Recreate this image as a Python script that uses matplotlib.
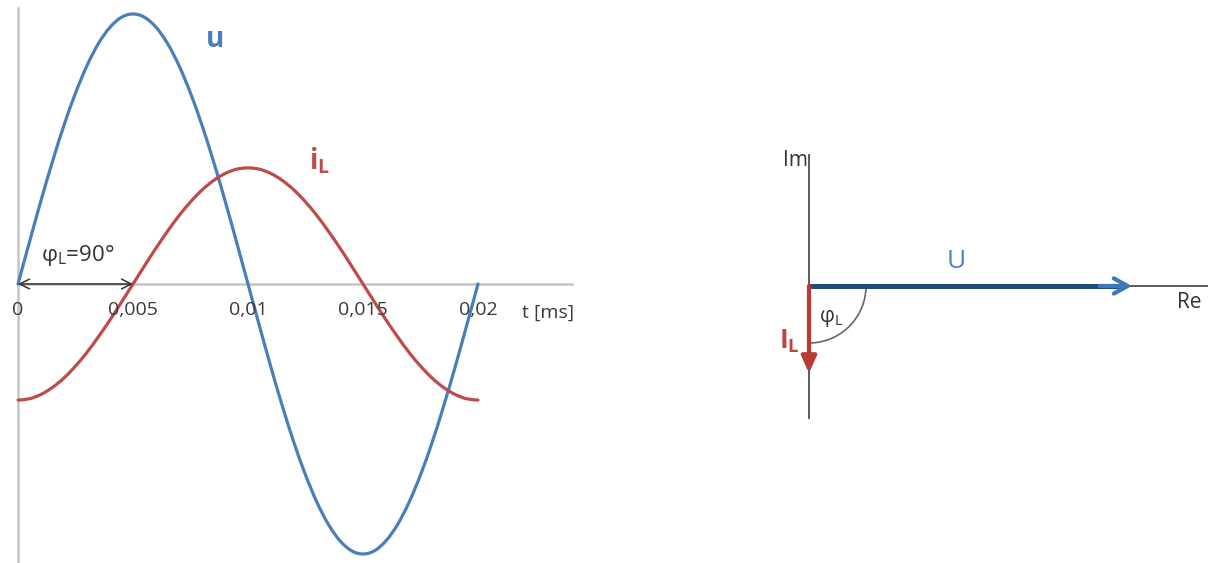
import numpy as np
import matplotlib.pyplot as plt
from matplotlib.path import Path
from matplotlib.patches import PathPatch

plt.rcParams['font.family'] = ['Open Sans', 'DejaVu Sans']
plt.rcParams['mathtext.fontset'] = 'custom'
plt.rcParams['mathtext.rm'] = 'Open Sans'
plt.rcParams['mathtext.bf'] = 'Open Sans:bold'

# =============================
# DATA
# =============================

# time samples, every 0.0005 s over one period
t = np.arange(41) * 0.0005

u = [0.000, 0.156, 0.309, 0.454, 0.588, 0.707, 0.809, 0.891, 0.951, 0.988,
     1.000, 0.988, 0.951, 0.891, 0.809, 0.707, 0.588, 0.454, 0.309, 0.156,
     0.000, -0.156, -0.309, -0.454, -0.588, -0.707, -0.809, -0.891, -0.951, -0.988,
     -1.000, -0.988, -0.951, -0.891, -0.809, -0.707, -0.588, -0.454, -0.309, -0.156,
     0.000]

i_L = [-0.430, -0.425, -0.409, -0.383, -0.348, -0.304, -0.253, -0.195, -0.133, -0.067,
       0.000, 0.067, 0.133, 0.195, 0.253, 0.304, 0.348, 0.383, 0.409, 0.425,
       0.430, 0.425, 0.409, 0.383, 0.348, 0.304, 0.253, 0.195, 0.133, 0.067,
       0.000, -0.067, -0.133, -0.195, -0.253, -0.304, -0.348, -0.383, -0.409, -0.425,
       -0.430]

tick_pos = [0, 0.005, 0.01, 0.015, 0.02]
tick_labels = ['0', '0,005', '0,01', '0,015', '0,02']
phase_shift = 0.005   # 90 degrees

# phasors (real, imag)
U_phasor = (1.0, 0.0)
I_phasor = (0.0, -0.27)

blue = '#4a7ebb'
red = '#be4b48'
grey = '#c4c4c4'
txt = '#3a3a3a'


def smooth_line(ax, x, y, **kw):
    # smoothed line through the points (Catmull-Rom as bezier), like Excel
    p = np.column_stack([x, y])
    p = np.vstack([p[0], p, p[-1]])
    verts = [p[1]]
    codes = [Path.MOVETO]
    for k in range(1, len(p) - 2):
        c1 = p[k] + (p[k + 1] - p[k - 1]) / 6
        c2 = p[k + 1] - (p[k + 2] - p[k]) / 6
        verts += [c1, c2, p[k + 1]]
        codes += [Path.CURVE4] * 3
    ax.add_patch(PathPatch(Path(verts, codes), fill=False, **kw))


W, H = 1215, 563
fig = plt.figure(figsize=(W / 100, H / 100), dpi=100)

# =============================
# TIME DIAGRAM
# =============================
ax = fig.add_axes([0, 0, 600 / W, 1])
ax.set_xlim(-18 / 23000, 582 / 23000)
ax.set_ylim(-279 / 270, 284 / 270)

smooth_line(ax, t, u, edgecolor=blue, lw=2.3, capstyle='round')
smooth_line(ax, t, i_L, edgecolor=red, lw=2.3, capstyle='round')

for s in ['top', 'right']:
    ax.spines[s].set_visible(False)
ax.spines['bottom'].set_position(('data', 0))
ax.spines['bottom'].set_bounds(0, 0.0241)
ax.spines['left'].set_position(('data', 0))
ax.spines['left'].set_bounds(-279 / 270, 1.022)
for s in ['bottom', 'left']:
    ax.spines[s].set_color(grey)
    ax.spines[s].set_linewidth(1.8)
ax.spines['bottom'].set_zorder(0.5)
ax.spines['left'].set_zorder(0.5)
ax.set_yticks([])
ax.set_xticks(tick_pos)
ax.set_xticklabels(tick_labels)
ax.tick_params(axis='x', length=0, pad=12, labelsize=14, labelcolor=txt)
ax.text(0.0219, -0.107, 't [ms]', fontsize=14, color=txt, ha='left', va='center')

ax.annotate('', xy=(0, 0), xytext=(phase_shift, 0),
            arrowprops=dict(arrowstyle='<->, head_length=0.7, head_width=0.35',
                            color='#333333', lw=1.1, shrinkA=0, shrinkB=0))
ax.text(0.00098, 0.105, r'$\mathrm{\varphi_L}$=90°', fontsize=16, color='#333333',
        ha='left', va='center')

ax.text(0.00815, 0.905, 'u', fontsize=20, color=blue, fontweight='bold',
        ha='left', va='center')
ax.text(0.01265, 0.455, r'$\mathbf{i}_\mathbf{L}$', fontsize=20, color=red,
        ha='left', va='center')

# =============================
# PHASOR DIAGRAM
# =============================
sc = 323
bx = fig.add_axes([600 / W, 0, 615 / W, 1])
bx.set_xlim(-209 / sc, 406 / sc)
bx.set_ylim(-277 / sc, 286 / sc)
bx.axis('off')

axis_col = '#5a5a5a'
bx.plot([0, 0], [-0.409, 0.406], color=axis_col, lw=1.4)
bx.plot([0, 1.232], [0, 0], color=axis_col, lw=1.4)
bx.text(-0.005, 0.39, 'Im', fontsize=15, color='#333333', ha='right', va='center')
bx.text(1.14, -0.05, 'Re', fontsize=15, color='#333333', ha='left', va='center')

# phase angle arc
r = 57 / sc
ang = np.linspace(0, -np.pi / 2, 60)
bx.plot(r * np.cos(ang), r * np.sin(ang), color='#666666', lw=1.2)
bx.text(0.03, -0.1, r'$\mathrm{\varphi_L}$', fontsize=15, color='#333333',
        ha='left', va='center')

# U phasor
bx.plot([0, U_phasor[0] - 0.02], [0, U_phasor[1]], color='#1f4e79', lw=3.6,
        solid_capstyle='butt')
bx.annotate('', xy=U_phasor, xytext=(U_phasor[0] - 0.1, 0),
            arrowprops=dict(arrowstyle='->, head_length=1.0, head_width=0.55',
                            color='#3c78c0', lw=3, shrinkA=0, shrinkB=0))
bx.text(0.455, 0.075, 'U', fontsize=19, color='#4a86c8', ha='center', va='center')

# I_L phasor
bx.annotate('', xy=I_phasor, xytext=(0, 0),
            arrowprops=dict(arrowstyle='-|>, head_length=1.0, head_width=0.45',
                            color='#b83a35', lw=3, shrinkA=0, shrinkB=0))
bx.text(-0.06, -0.17, r'$\mathbf{I}_\mathbf{L}$', fontsize=19, color='#c0433f',
        ha='center', va='center')

fig.savefig('out.png', dpi=100)
